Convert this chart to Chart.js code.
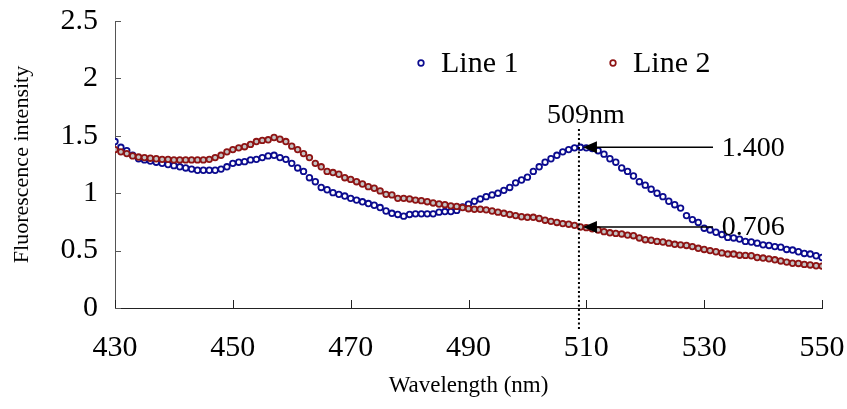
<!DOCTYPE html>
<html><head><meta charset="utf-8">
<script src="https://cdn.jsdelivr.net/npm/chart.js@4.4.1/dist/chart.umd.min.js"></script>
<style>html,body{margin:0;padding:0;background:#fff;}canvas{display:block;}</style>
</head><body>
<canvas id="chart" width="847" height="409"></canvas>
<script>
// ---- data ----
const wavelengths = [
  430,431,432,433,434,435,436,437,438,439,
  440,441,442,443,444,445,446,447,448,449,
  450,451,452,453,454,455,456,457,458,459,
  460,461,462,463,464,465,466,467,468,469,
  470,471,472,473,474,475,476,477,478,479,
  480,481,482,483,484,485,486,487,488,489,
  490,491,492,493,494,495,496,497,498,499,
  500,501,502,503,504,505,506,507,508,509,
  510,511,512,513,514,515,516,517,518,519,
  520,521,522,523,524,525,526,527,528,529,
  530,531,532,533,534,535,536,537,538,539,
  540,541,542,543,544,545,546,547,548,549,
  550];
const line1 = [
  1.45,1.40,1.37,1.33,1.30,1.29,1.28,1.27,1.26,1.25,
  1.24,1.23,1.22,1.21,1.20,1.20,1.20,1.20,1.21,1.23,
  1.26,1.27,1.275,1.29,1.295,1.31,1.325,1.33,1.31,1.295,
  1.26,1.22,1.19,1.135,1.10,1.05,1.03,1.005,0.99,0.975,
  0.955,0.94,0.925,0.91,0.895,0.875,0.845,0.825,0.815,0.80,
  0.815,0.82,0.82,0.82,0.82,0.835,0.84,0.84,0.85,0.88,
  0.905,0.93,0.95,0.97,0.985,1.00,1.025,1.05,1.09,1.115,
  1.14,1.19,1.23,1.27,1.30,1.33,1.36,1.38,1.395,1.40,
  1.395,1.39,1.37,1.34,1.30,1.27,1.22,1.19,1.15,1.10,
  1.07,1.035,1.00,0.97,0.93,0.90,0.87,0.805,0.77,0.745,
  0.695,0.68,0.66,0.64,0.615,0.61,0.60,0.58,0.575,0.565,
  0.55,0.545,0.535,0.53,0.51,0.505,0.49,0.475,0.47,0.455,
  0.44];
const line2 = [
  1.38,1.36,1.345,1.325,1.315,1.31,1.305,1.30,1.295,1.295,
  1.29,1.29,1.29,1.29,1.29,1.29,1.295,1.31,1.33,1.36,
  1.38,1.395,1.405,1.425,1.45,1.46,1.465,1.485,1.47,1.45,
  1.41,1.38,1.345,1.31,1.26,1.23,1.19,1.18,1.165,1.135,
  1.12,1.10,1.08,1.057,1.043,1.02,0.99,0.985,0.955,0.955,
  0.95,0.94,0.935,0.926,0.915,0.906,0.90,0.89,0.885,0.875,
  0.865,0.86,0.86,0.855,0.845,0.835,0.825,0.815,0.805,0.795,
  0.79,0.79,0.78,0.765,0.755,0.745,0.735,0.73,0.72,0.706,
  0.70,0.69,0.68,0.665,0.655,0.65,0.645,0.635,0.63,0.61,
  0.595,0.59,0.58,0.575,0.565,0.555,0.55,0.545,0.535,0.52,
  0.51,0.50,0.49,0.48,0.47,0.47,0.46,0.458,0.455,0.44,
  0.435,0.428,0.42,0.41,0.40,0.39,0.388,0.38,0.375,0.368,
  0.365];
const seriesNames = ['Line 1', 'Line 2'];
const xTickValues = [430, 450, 470, 490, 510, 530, 550];
const yTickValues = [0, 0.5, 1, 1.5, 2, 2.5];
const yTickLabels = ['0', '0.5', '1', '1.5', '2', '2.5'];
const xTitle = 'Wavelength (nm)';
const yTitle = 'Fluorescence intensity';
const peakWavelength = 509;
const peakLabel = '509nm';
const markedValues = [1.400, 0.706];
const markedLabels = ['1.400', '0.706'];
const arrowTailWavelength = 531.5;
const arrowTextWavelength = 533;

// ---- styling ----
const FONT = '"Liberation Serif", "Times New Roman", serif';
const COLORS = [
  { border: '#0b0b8f', fill: '#ffffff' },
  { border: '#8e1414', fill: '#c3c3c3' }
];

const toPoints = vals => wavelengths.map((w, i) => ({ x: w, y: vals[i] }));

const insideTicks = {
  id: 'insideTicks',
  beforeDatasetsDraw(chart) {
    const { ctx, scales: { x, y } } = chart;
    ctx.save();
    ctx.lineWidth = 1;
    ctx.strokeStyle = '#555';
    yTickValues.forEach(v => {
      const py = Math.round(y.getPixelForValue(v)) + 0.5;
      ctx.beginPath(); ctx.moveTo(x.left, py); ctx.lineTo(x.left + 6, py); ctx.stroke();
    });
    ctx.strokeStyle = '#222';
    xTickValues.forEach(v => {
      const px = Math.round(x.getPixelForValue(v)) + 0.5;
      ctx.beginPath(); ctx.moveTo(px, y.bottom); ctx.lineTo(px, y.bottom - 8); ctx.stroke();
    });
    ctx.restore();
  }
};

const customLegend = {
  id: 'customLegend',
  afterDraw(chart) {
    const { ctx, chartArea } = chart;
    const offsets = [306, 498];
    ctx.save();
    chart.data.datasets.forEach((ds, i) => {
      const mx = chartArea.left + offsets[i];
      const my = chartArea.top + 42;
      ctx.beginPath();
      ctx.arc(mx, my, 2.8, 0, Math.PI * 2);
      ctx.fillStyle = '#ffffff';
      ctx.fill();
      ctx.lineWidth = 1.7;
      ctx.strokeStyle = ds.borderColor;
      ctx.stroke();
      ctx.fillStyle = '#000';
      ctx.font = '30px ' + FONT;
      ctx.textBaseline = 'middle';
      ctx.textAlign = 'left';
      ctx.fillText(ds.label, mx + 20, my + 1);
    });
    ctx.restore();
  }
};

const annotations = {
  id: 'annotations',
  afterDatasetsDraw(chart) {
    const { ctx, scales: { x, y } } = chart;
    const px = x.getPixelForValue(peakWavelength) - 1.5;
    ctx.save();
    ctx.strokeStyle = '#000';
    ctx.lineWidth = 2;
    ctx.setLineDash([2, 2.5]);
    ctx.beginPath();
    ctx.moveTo(px, y.getPixelForValue(1.56));
    ctx.lineTo(px, y.bottom + 22);
    ctx.stroke();
    ctx.setLineDash([]);
    ctx.fillStyle = '#000';
    ctx.font = '28px ' + FONT;
    ctx.textAlign = 'center';
    ctx.textBaseline = 'alphabetic';
    ctx.fillText(peakLabel, px + 7, y.getPixelForValue(1.61));
    markedValues.forEach((v, i) => {
      const py = y.getPixelForValue(v);
      const tip = px + 4;
      const tail = x.getPixelForValue(arrowTailWavelength);
      ctx.lineWidth = 1.6;
      ctx.beginPath();
      ctx.moveTo(tip + 10, py);
      ctx.lineTo(tail, py);
      ctx.stroke();
      ctx.beginPath();
      ctx.moveTo(tip, py);
      ctx.lineTo(tip + 14, py - 6);
      ctx.lineTo(tip + 14, py + 6);
      ctx.closePath();
      ctx.fill();
      ctx.textAlign = 'left';
      ctx.textBaseline = 'middle';
      ctx.fillText(markedLabels[i], x.getPixelForValue(arrowTextWavelength), py + 1);
    });
    ctx.restore();
  }
};

new Chart(document.getElementById('chart'), {
  type: 'line',
  data: {
    datasets: [line1, line2].map((vals, i) => ({
      label: seriesNames[i],
      data: toPoints(vals),
      showLine: false,
      pointStyle: 'circle',
      pointRadius: 2.8,
      pointBorderWidth: 1.8,
      borderColor: COLORS[i].border,
      backgroundColor: COLORS[i].fill,
      pointBackgroundColor: COLORS[i].fill,
      pointBorderColor: COLORS[i].border,
      order: i === 0 ? 1 : 0
    }))
  },
  options: {
    responsive: false,
    animation: false,
    layout: { padding: { left: 0, right: 25, top: 21, bottom: 0 } },
    plugins: { legend: { display: false }, tooltip: { enabled: false } },
    scales: {
      x: {
        type: 'linear', min: 430, max: 550,
        afterBuildTicks: s => { s.ticks = xTickValues.map(v => ({ value: v })); },
        afterFit: s => { s.height = 101; s.paddingLeft = 0; s.paddingRight = 0; },
        grid: { display: false, drawTicks: false, tickLength: 0 },
        border: { display: true, color: '#222', width: 1 },
        ticks: { color: '#000', font: { family: FONT, size: 30 }, padding: 22, maxRotation: 0, autoSkip: false },
        title: { display: true, text: xTitle, color: '#000', font: { family: FONT, size: 23 }, padding: { top: 0, bottom: 9 } }
      },
      y: {
        type: 'linear', min: 0, max: 2.5,
        afterBuildTicks: s => { s.ticks = yTickValues.map(v => ({ value: v })); },
        afterFit: s => { s.width = 115; s.paddingTop = 0; s.paddingBottom = 0; },
        grid: { display: false, drawTicks: false, tickLength: 0 },
        border: { display: true, color: '#555', width: 1 },
        ticks: { color: '#000', font: { family: FONT, size: 30 }, padding: 17, autoSkip: false,
                 callback: (v) => yTickLabels[yTickValues.indexOf(v)] },
        title: { display: true, text: yTitle, color: '#000', font: { family: FONT, size: 22 }, padding: { top: 9, bottom: 0 } }
      }
    }
  },
  plugins: [insideTicks, customLegend, annotations]
});
</script>
</body></html>
